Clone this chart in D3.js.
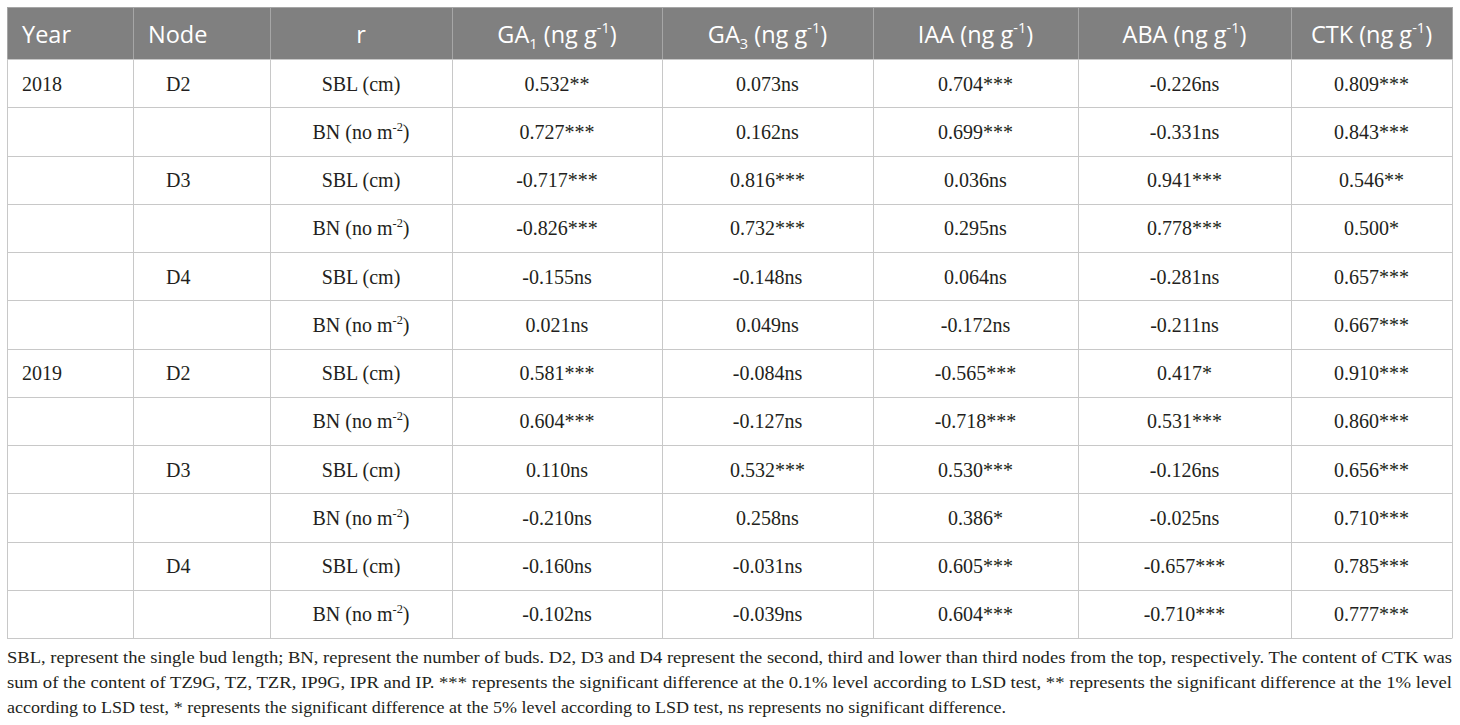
<!DOCTYPE html>
<html>
<head>
<meta charset="utf-8">
<script src="https://cdn.jsdelivr.net/npm/d3@7"></script>
<style>
  body { margin: 0; background: #fff; }
  svg { display: block; }
</style>
</head>
<body>
<svg id="chart" width="1460" height="725"></svg>
<script>
// table content
var years = ['2018', '2019']
var nodes = ['D2', 'D3', 'D4']
var traits = ['SBL (cm)', 'BN (no m^-2)']
var headers = ['Year', 'Node', 'r', 'GA_1 (ng g^-1)', 'GA_3 (ng g^-1)', 'IAA (ng g^-1)', 'ABA (ng g^-1)', 'CTK (ng g^-1)']

var GA1 = [0.532, 0.727, -0.717, -0.826, -0.155, 0.021, 0.581, 0.604, 0.110, -0.210, -0.160, -0.102]
var GA1sig = ['**', '***', '***', '***', 'ns', 'ns', '***', '***', 'ns', 'ns', 'ns', 'ns']
var GA3 = [0.073, 0.162, 0.816, 0.732, -0.148, 0.049, -0.084, -0.127, 0.532, 0.258, -0.031, -0.039]
var GA3sig = ['ns', 'ns', '***', '***', 'ns', 'ns', 'ns', 'ns', '***', 'ns', 'ns', 'ns']
var IAA = [0.704, 0.699, 0.036, 0.295, 0.064, -0.172, -0.565, -0.718, 0.530, 0.386, 0.605, 0.604]
var IAAsig = ['***', '***', 'ns', 'ns', 'ns', 'ns', '***', '***', '***', '*', '***', '***']
var ABA = [-0.226, -0.331, 0.941, 0.778, -0.281, -0.211, 0.417, 0.531, -0.126, -0.025, -0.657, -0.710]
var ABAsig = ['ns', 'ns', '***', '***', 'ns', 'ns', '*', '***', 'ns', 'ns', '***', '***']
var CTK = [0.809, 0.843, 0.546, 0.500, 0.657, 0.667, 0.910, 0.860, 0.656, 0.710, 0.785, 0.777]
var CTKsig = ['***', '***', '**', '*', '***', '***', '***', '***', '***', '***', '***', '***']

var footnote = [
  'SBL, represent the single bud length; BN, represent the number of buds. D2, D3 and D4 represent the second, third and lower than third nodes from the top, respectively. The content of CTK was',
  'sum of the content of TZ9G, TZ, TZR, IP9G, IPR and IP. *** represents the significant difference at the 0.1% level according to LSD test, ** represents the significant difference at the 1% level',
  'according to LSD test, * represents the significant difference at the 5% level according to LSD test, ns represents no significant difference.'
]

// layout
var tLeft = 7, tTop = 7, headH = 52, tBottom = 638
var colWidths = [126, 137, 182, 210, 211, 205, 213, 161]
var colEdges = [tLeft].concat(Array.from(d3.cumsum(colWidths), function(d) { return tLeft + d }))
var tRight = colEdges[colEdges.length - 1]
var headFont = '"Open Sans", "DejaVu Sans", sans-serif'
var bodyFont = '"Liberation Serif", "DejaVu Serif", serif'
var ink = '#231f20'
var lineCol = '#c8c8c8'

var hormones = [[GA1, GA1sig], [GA3, GA3sig], [IAA, IAAsig], [ABA, ABAsig], [CTK, CTKsig]]

var rows = []
years.forEach(function(y) {
  nodes.forEach(function(n) {
    traits.forEach(function(t, ti) {
      var i = rows.length
      rows.push([ti === 0 && n === 'D2' ? y : '', ti === 0 ? n : '', t].concat(hormones.map(function(h) {
        return h[0][i].toFixed(3) + h[1][i]
      })))
    })
  })
})

var yRow = d3.scaleBand().domain(d3.range(rows.length)).range([tTop + headH, tBottom])
var colX = function(j) { return colEdges[j] }
var colMid = function(j) { return (colEdges[j] + colEdges[j + 1]) / 2 }
var px = function(v) { return Math.round(v) + 0.5 }

var svg = d3.select('#chart')

// write "a_1" / "b^-1" markup into tspans
function richText(sel, str, size) {
  var parts = str.split(/([_^][^\s)]+)/).filter(function(p) { return p.length })
  var shift = 0
  parts.forEach(function(p) {
    var ts = sel.append('tspan')
    var dy = 0 - shift
    if (p[0] === '_' || p[0] === '^') {
      var s = p[0] === '_' ? size * 0.28 : -size * 0.4
      ts.attr('font-size', size * 0.62).text(p.slice(1))
      dy += s
      shift = s
    } else {
      ts.text(p)
      shift = 0
    }
    if (dy) ts.attr('dy', dy)
  })
}

// header
svg.append('rect')
  .attr('x', tLeft).attr('y', tTop)
  .attr('width', tRight - tLeft).attr('height', headH)
  .attr('fill', '#808080')

var headSize = 23.5
svg.append('g').selectAll('text')
  .data(headers)
  .join('text')
  .attr('x', function(d, j) { return j < 2 ? colX(j) + 15 : colMid(j) })
  .attr('y', tTop + headH / 2 + 9.5)
  .attr('text-anchor', function(d, j) { return j < 2 ? 'start' : 'middle' })
  .attr('font-family', headFont)
  .attr('font-size', headSize)
  .attr('fill', '#fff')
  .each(function(d) { richText(d3.select(this), d, headSize) })

// body cells
var bodySize = 20
var body = svg.append('g')
rows.forEach(function(r, i) {
  body.append('g').selectAll('text')
    .data(r)
    .join('text')
    .attr('x', function(d, j) { return j === 0 ? colX(j) + 15 : j === 1 ? colX(j) + 33 : colMid(j) })
    .attr('y', yRow(i) + yRow.bandwidth() / 2 + 7.5)
    .attr('text-anchor', function(d, j) { return j < 2 ? 'start' : 'middle' })
    .attr('font-family', bodyFont)
    .attr('font-size', bodySize)
    .attr('fill', ink)
    .each(function(d) { richText(d3.select(this), d, bodySize) })
})

// grid lines
var grid = svg.append('g').attr('stroke-width', 1)
grid.append('g').selectAll('line')
  .data(d3.range(rows.length + 1))
  .join('line')
  .attr('x1', tLeft).attr('x2', tRight)
  .attr('y1', function(i) { return px(i === rows.length ? tBottom : yRow(i)) })
  .attr('y2', function(i) { return px(i === rows.length ? tBottom : yRow(i)) })
  .attr('stroke', lineCol)
grid.append('g').selectAll('line')
  .data(colEdges)
  .join('line')
  .attr('x1', px).attr('x2', px)
  .attr('y1', tTop + headH).attr('y2', px(tBottom))
  .attr('stroke', lineCol)
// separators inside the header
grid.append('g').selectAll('line')
  .data(colEdges)
  .join('line')
  .attr('x1', px).attr('x2', px)
  .attr('y1', tTop).attr('y2', tTop + headH)
  .attr('stroke', '#a6a6a6')
grid.append('line')
  .attr('x1', tLeft).attr('x2', tRight)
  .attr('y1', px(tTop)).attr('y2', px(tTop))
  .attr('stroke', '#a6a6a6')

// footnote
var footWidths = [tRight - tLeft, tRight - tLeft, 999]
svg.append('g').selectAll('text')
  .data(footnote)
  .join('text')
  .attr('x', tLeft)
  .attr('y', function(d, i) { return 662.5 + i * 25 })
  .attr('font-family', bodyFont)
  .attr('font-size', 17.5)
  .attr('fill', ink)
  .attr('textLength', function(d, i) { return footWidths[i] })
  .attr('lengthAdjust', 'spacingAndGlyphs')
  .text(function(d) { return d })
</script>
</body>
</html>
